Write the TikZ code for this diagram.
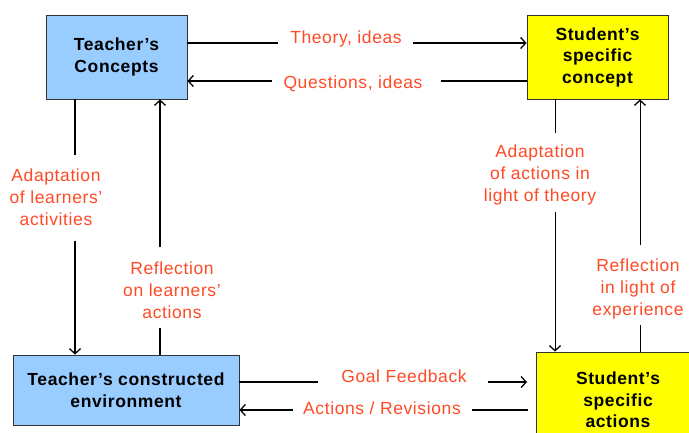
\documentclass[tikz,border=0pt]{standalone}
\usepackage{fontspec}
\setmainfont{Liberation Sans}[LetterSpace=3.5]
\usetikzlibrary{arrows.meta}
\definecolor{tblue}{HTML}{99CCFF}
\definecolor{syel}{HTML}{FFFF00}
\definecolor{lred}{HTML}{FF4A26}
\definecolor{bord}{HTML}{333333}
\tikzset{
  box/.style={draw=bord, line width=0.9pt, align=center, inner sep=0pt,
    font=\fontsize{17.5}{21.5}\selectfont\bfseries},
  lab/.style={text=lred, align=center, inner sep=0pt,
    font=\fontsize{17.5}{22}\selectfont},
  ln/.style={line width=1.5pt, black},
  thin/.style={line width=1pt, black},
  tip/.style={-{Straight Barb[length=5pt,width=11pt,line width=1.3pt]}}
}
\begin{document}
\begin{tikzpicture}[x=1pt,y=-1pt]
\clip (0,0) rectangle (689,432);
\fill[white] (0,0) rectangle (689,432);
% boxes
\node[box, fill=tblue, minimum width=141pt, minimum height=84pt] (tc) at (116.5,57) {Teacher’s\\Concepts};
\node[box, fill=syel, minimum width=141pt, minimum height=84pt] (sc) at (597.5,57) {Student’s\\specific\\concept};
\node[box, fill=tblue, minimum width=226pt, minimum height=70pt] (te) at (126,390) {Teacher’s constructed\\environment};
\node[box, fill=syel, minimum width=164pt, minimum height=96pt] (sa) at (618,400) {Student’s\\specific\\actions};
% labels
\node[lab, anchor=base] (l1) at (346,43) {Theory, ideas};
\node[lab, anchor=base] (l2) at (353,88) {Questions, ideas};
\node[lab, anchor=base] (l3) at (404,382) {Goal Feedback};
\node[lab, anchor=base] (l4) at (382,414) {Actions / Revisions};
\node[lab] (l5) at (56,197.5) {Adaptation\\of learners’\\activities};
\node[lab] (l6) at (172,290.5) {Reflection\\on learners’\\actions};
\node[lab] (l7) at (540,175) {Adaptation\\of actions in\\light of theory};
\node[lab] (l8) at (638,288.5) {Reflection\\in light of\\experience};
% connector break points
\coordinate (a1) at (278,43);  \coordinate (b1) at (413,43);
\coordinate (a2) at (272,81);  \coordinate (b2) at (441,81);
\coordinate (a3) at (318,382); \coordinate (b3) at (488,382); \coordinate (c3) at (527,382);
\coordinate (a4) at (293,410); \coordinate (b4) at (472,410); \coordinate (c4) at (528,410);
\coordinate (a5) at (75,155);  \coordinate (b5) at (75,241);
\coordinate (a6) at (160,328); \coordinate (b6) at (160,247);
\coordinate (a7) at (555,133); \coordinate (b7) at (555,212);
\coordinate (a8) at (640,325); \coordinate (b8) at (640,245);
% horizontal connectors
\draw[ln] (tc.east |- a1) -- (a1);
\draw[ln,tip] (b1) -- (sc.west |- b1);
\draw[ln,tip] (a2) -- (tc.east |- a2);
\draw[ln] (sc.west |- b2) -- (b2);
\draw[ln] (te.east |- a3) -- (a3);
\draw[ln,tip] (b3) -- (c3);
\draw[ln,tip] (a4) -- (te.east |- a4);
\draw[ln] (c4) -- (b4);
% vertical connectors
\draw[ln] (tc.south -| a5) -- (a5);
\draw[ln,tip] (b5) -- (te.north -| b5);
\draw[ln] (te.north -| a6) -- (a6);
\draw[ln,tip] (b6) -- (tc.south -| b6);
\draw[thin] (sc.south -| a7) -- (a7);
\draw[thin,tip] (b7) -- (sa.north -| b7);
\draw[thin] (sa.north -| a8) -- (a8);
\draw[thin,tip] (b8) -- (sc.south -| b8);
\end{tikzpicture}
\end{document}
